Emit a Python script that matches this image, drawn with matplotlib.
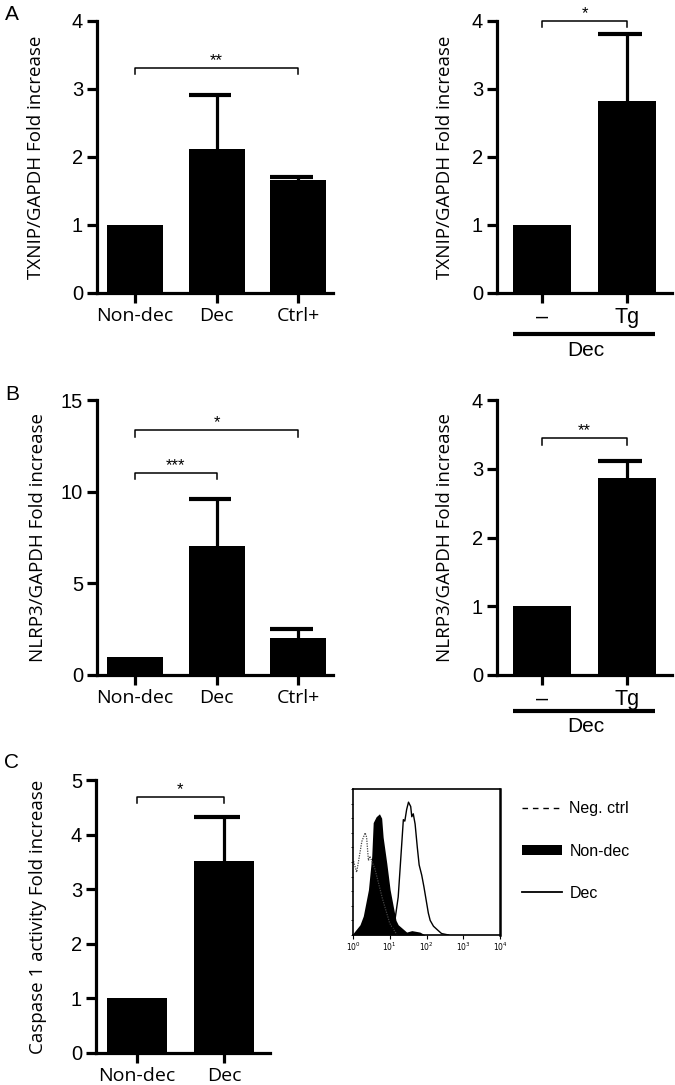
import matplotlib
matplotlib.use("Agg")
import matplotlib.pyplot as plt
from matplotlib.lines import Line2D
from matplotlib.patches import Patch
import numpy as np

W, H = 675, 1085

# Panel A: TXNIP/GAPDH fold increase
groups3 = ["Non-dec", "Dec", "Ctrl+"]
txnip = [1.0, 2.12, 1.66]
txnip_err = [0.0, 0.79, 0.05]
groups_tg = ["\u2013", "Tg"]
txnip_tg = [1.0, 2.82]
txnip_tg_err = [0.0, 0.99]

# Panel B: NLRP3/GAPDH fold increase
nlrp3 = [1.0, 7.04, 2.0]
nlrp3_err = [0.0, 2.56, 0.5]
nlrp3_tg = [1.0, 2.86]
nlrp3_tg_err = [0.0, 0.26]

# Panel C: caspase 1 activity
groups2 = ["Non-dec", "Dec"]
casp1 = [1.0, 3.52]
casp1_err = [0.0, 0.81]

# flow histogram (log10 fluorescence, relative count)
neg_logx = [-0.1, 0.01, 0.10, 0.24, 0.33, 0.37, 0.42, 0.46, 0.60, 0.80, 1.00, 1.20]
neg_cnt = [0.50, 0.51, 0.43, 0.64, 0.70, 0.67, 0.51, 0.54, 0.45, 0.25, 0.08, 0.0]
nondec_logx = [0.0, 0.19, 0.28, 0.42, 0.51, 0.55, 0.63, 0.72, 0.78, 0.82, 0.92, 1.01,
               1.10, 1.17, 1.23, 1.46, 1.60, 1.82, 1.96]
nondec_cnt = [0.01, 0.07, 0.13, 0.31, 0.54, 0.77, 0.81, 0.83, 0.80, 0.67, 0.49, 0.31,
              0.19, 0.10, 0.07, 0.02, 0.03, 0.02, 0.0]
dec_logx = [1.0, 1.14, 1.23, 1.32, 1.37, 1.41, 1.46, 1.51, 1.57, 1.60, 1.64, 1.69, 1.75,
            1.80, 1.87, 1.93, 1.99, 2.05, 2.10, 2.19, 2.32, 2.41, 2.60]
dec_cnt = [0.0, 0.10, 0.26, 0.60, 0.79, 0.78, 0.86, 0.91, 0.88, 0.81, 0.83, 0.76, 0.60,
           0.48, 0.41, 0.33, 0.24, 0.15, 0.10, 0.06, 0.03, 0.01, 0.0]

CAT_FONT = "Open Sans"
NUM_FONT = "Liberation Sans"
plt.rcParams["font.family"] = [NUM_FONT, "DejaVu Sans"]

fig = plt.figure(figsize=(W / 100, H / 100), dpi=100)


def px(left, top, right, bottom):
    return [left / W, 1 - bottom / H, (right - left) / W, (bottom - top) / H]


def bar_panel(rect, labels, vals, errs, ylim, yticks, ylabel, xlim, catfont, catsize,
              labelpad):
    ax = fig.add_axes(px(*rect))
    x = np.arange(len(vals))
    w = 0.69
    ax.bar(x, vals, width=w, color="black", edgecolor="none")
    tops = np.array(vals) + np.array(errs)
    for xi, v, t in zip(x, vals, tops):
        if t > v:
            ax.vlines(xi, v, t, color="black", lw=2.3)
            ax.hlines(t, xi - w / 2, xi + 0.18, color="black", lw=3.0)
    ax.set_xlim(*xlim)
    ax.set_ylim(*ylim)
    ax.set_yticks(yticks)
    ax.set_xticks(x)
    ax.set_xticklabels(labels, fontsize=catsize, family=catfont)
    for t in ax.get_yticklabels():
        t.set_fontsize(14.5)
    for s in ["top", "right"]:
        ax.spines[s].set_visible(False)
    for s in ["left", "bottom"]:
        ax.spines[s].set_linewidth(2.3)
    ax.tick_params(width=2.3, length=7, pad=3)
    ax.set_ylabel(ylabel, fontsize=13.5, family=CAT_FONT, labelpad=labelpad)
    return ax


def bracket(ax, x0, x1, y, drop, text):
    ax.plot([x0, x0, x1, x1], [y - drop, y, y, y - drop], color="black", lw=1.1,
            clip_on=False)
    ax.text((x0 + x1) / 2, y, text, ha="center", va="bottom", fontsize=12,
            clip_on=False)


def dec_group(ax, line_px, text_px):
    # group line and "Dec" label below the x tick labels (offsets in pixels)
    h = ax.get_position().height * H
    tr = ax.get_xaxis_transform()
    ax.plot([-0.345, 1.33], [-line_px / h] * 2, color="black", lw=3, transform=tr,
            clip_on=False, solid_capstyle="butt")
    ax.text(0.51, -text_px / h, "Dec", transform=tr, ha="center", va="center",
            fontsize=15)


# --- A ---
ax = bar_panel((97, 21, 333, 293), groups3, txnip, txnip_err, (0, 4), range(5),
               "TXNIP/GAPDH Fold increase", (-0.47, 2.43), CAT_FONT, 14, 19)
bracket(ax, 0, 2, 3.31, 0.09, "**")
fig.text(5 / W, 1 - 14 / H, "A", fontsize=15, va="center", ha="left")

ax = bar_panel((497, 21, 672, 293), groups_tg, txnip_tg, txnip_tg_err, (0, 4), range(5),
               "TXNIP/GAPDH Fold increase", (-0.53, 1.53), NUM_FONT, 15.5, 13)
bracket(ax, 0, 1, 4.0, 0.09, "*")
dec_group(ax, 41, 57)

# --- B ---
ax = bar_panel((97, 400, 333, 675), groups3, nlrp3, nlrp3_err, (0, 15), [0, 5, 10, 15],
               "NLRP3/GAPDH Fold increase", (-0.47, 2.43), CAT_FONT, 14, 10)
bracket(ax, 0, 2, 13.37, 0.37, "*")
bracket(ax, 0, 1, 11.0, 0.33, "***")
fig.text(5 / W, 1 - 394 / H, "B", fontsize=15, va="center", ha="left")

ax = bar_panel((497, 400, 672, 675), groups_tg, nlrp3_tg, nlrp3_tg_err, (0, 4), range(5),
               "NLRP3/GAPDH Fold increase", (-0.53, 1.53), NUM_FONT, 15.5, 13)
bracket(ax, 0, 1, 3.45, 0.1, "**")
dec_group(ax, 36, 51)

# --- C ---
ax = bar_panel((96, 780, 270, 1053), groups2, casp1, casp1_err, (0, 5), range(6),
               "Caspase 1 activity Fold increase", (-0.47, 1.53), CAT_FONT, 14, 17)
bracket(ax, 0, 1, 4.69, 0.11, "*")
fig.text(4 / W, 1 - 763 / H, "C", fontsize=15, va="center", ha="left")

# flow cytometry histogram
hx = fig.add_axes(px(353, 789, 500, 935))
hx.set_xscale("log")
hx.plot(10 ** np.array(neg_logx), neg_cnt, color="#444444", lw=0.9,
        linestyle=(0, (1, 1)))
hx.fill_between(10 ** np.array(nondec_logx), nondec_cnt, 0, color="black", lw=0)
hx.plot(10 ** np.array(dec_logx), dec_cnt, color="black", lw=1.0)
hx.set_xlim(1, 1e4)
hx.set_ylim(0, 1)
hx.set_xticks([1, 10, 100, 1000, 10000])
hx.set_xticklabels([r"$10^0$", r"$10^1$", r"$10^2$", r"$10^3$", r"$10^4$"], fontsize=5.5)
hx.set_yticks(np.arange(0, 1.01, 0.1))
hx.set_yticklabels([])
hx.tick_params(axis="x", which="major", length=3, width=0.8, pad=1)
hx.tick_params(axis="x", which="minor", length=1.5, width=0.6)
hx.tick_params(axis="y", length=1.5, width=0.6)
for s in hx.spines.values():
    s.set_linewidth(1.2)
hx.spines["right"].set_linewidth(1.8)

handles = [Line2D([], [], color="black", lw=1.0, linestyle=(0, (4, 3.5))),
           Patch(facecolor="black", edgecolor="none"),
           Line2D([], [], color="black", lw=1.3)]
fig.legend(handles, ["Neg. ctrl", "Non-dec", "Dec"], loc="upper left",
           bbox_to_anchor=(508 / W, 1 - 787 / H), frameon=False, fontsize=11.5,
           handlelength=2.45, handleheight=0.55, handletextpad=0.5, labelspacing=1.7)

fig.savefig("out.png", dpi=100)
